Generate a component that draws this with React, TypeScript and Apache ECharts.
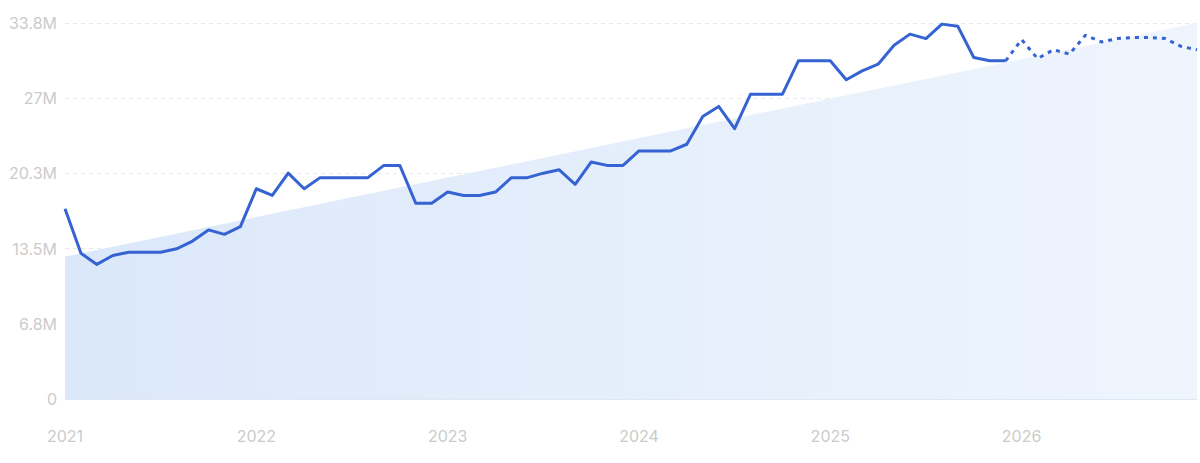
import React, { useEffect, useRef } from "react";
import * as echarts from "echarts";

// Monthly values (millions), Jan 2021 – Dec 2025 (actual)
const actualValues: number[] = [
  17.1, 13.1, 12.1, 12.9, 13.2, 13.2, 13.2, 13.5, 14.2, 15.2, 14.8, 15.5,
  18.9, 18.3, 20.3, 18.9, 19.9, 19.9, 19.9, 19.9, 21.0, 21.0, 17.6, 17.6,
  18.6, 18.3, 18.3, 18.6, 19.9, 19.9, 20.3, 20.6, 19.3, 21.3, 21.0, 21.0,
  22.3, 22.3, 22.3, 22.9, 25.4, 26.3, 24.3, 27.4, 27.4, 27.4, 30.4, 30.4,
  30.4, 28.7, 29.5, 30.1, 31.8, 32.8, 32.4, 33.7, 33.5, 30.7, 30.4, 30.4,
];
// Forecast Jan 2026 – Dec 2026
const forecastValues: number[] = [
  32.3, 30.6, 31.4, 31.0, 32.7, 32.1, 32.4, 32.5, 32.5, 32.4, 31.7, 31.4,
];
const startYear = 2021;
const yTicks = [0, 6.76, 13.52, 20.28, 27.04, 33.8];
// Trend line endpoints (millions)
const trendStart = 12.8;
const trendEnd = 33.8;

export default function App() {
  const ref = useRef<HTMLDivElement>(null);
  useEffect(() => {
    if (!ref.current) return;
    const chart = echarts.init(ref.current, undefined, { renderer: "svg" });
    const n = actualValues.length + forecastValues.length;
    const actual = actualValues.map((v, i) => [i, v]);
    const lastIdx = actualValues.length - 1;
    const forecast = [[lastIdx, actualValues[lastIdx]]].concat(
      forecastValues.map((v, i) => [lastIdx + 1 + i, v])
    );
    const trend = [
      [0, trendStart],
      [n - 1, trendEnd],
    ];
    const labelColor = "#cbcbcb";
    const font = "Inter, 'Noto Sans', sans-serif";
    chart.setOption({
      animation: false,
      grid: { left: 65, right: 3, top: 23, bottom: 64, containLabel: false },
      xAxis: {
        type: "value",
        min: 0,
        max: n - 1,
        interval: 12,
        axisLine: { show: true, lineStyle: { color: "#dfe7f3", width: 1 } },
        axisTick: { show: false },
        splitLine: { show: false },
        axisLabel: {
          margin: 29,
          color: labelColor,
          fontSize: 16,
          fontFamily: font,
          formatter: (v: number) =>
            Math.round(v) % 12 === 0 ? String(startYear + Math.round(v) / 12) : "",
        },
      },
      yAxis: {
        type: "value",
        min: 0,
        max: yTicks[yTicks.length - 1],
        interval: yTicks[1],
        axisLine: { show: false },
        axisTick: { show: false },
        splitLine: {
          show: true,
          lineStyle: { color: "#e6e8ec", type: [4, 4], width: 1 },
        },
        axisLabel: {
          margin: 8,
          color: labelColor,
          fontSize: 16,
          fontFamily: font,
          formatter: (v: number) => {
            if (v === 0) return "0";
            const r = Math.round(v * 10) / 10;
            return (r % 1 === 0 ? r.toFixed(0) : r.toFixed(1)) + "M";
          },
        },
      },
      series: [
        {
          type: "line",
          data: trend,
          symbol: "none",
          lineStyle: { width: 0, opacity: 0 },
          areaStyle: {
            opacity: 1,
            color: new echarts.graphic.LinearGradient(0, 0, 1, 0, [
              { offset: 0, color: "#dbe8fa" },
              { offset: 1, color: "#eff5fd" },
            ]),
          },
          z: 1,
        },
        {
          type: "line",
          data: actual,
          symbol: "none",
          lineStyle: { color: "#3563d2", width: 3, join: "round" },
          z: 3,
        },
        {
          type: "line",
          data: forecast,
          symbol: "none",
          lineStyle: { color: "#3563d2", width: 3, type: [4, 5] },
          z: 3,
        },
      ],
    });
    return () => chart.dispose();
  }, []);
  return <div ref={ref} style={{ width: 1200, height: 463, position: "absolute", left: 0, top: 0 }} />;
}
